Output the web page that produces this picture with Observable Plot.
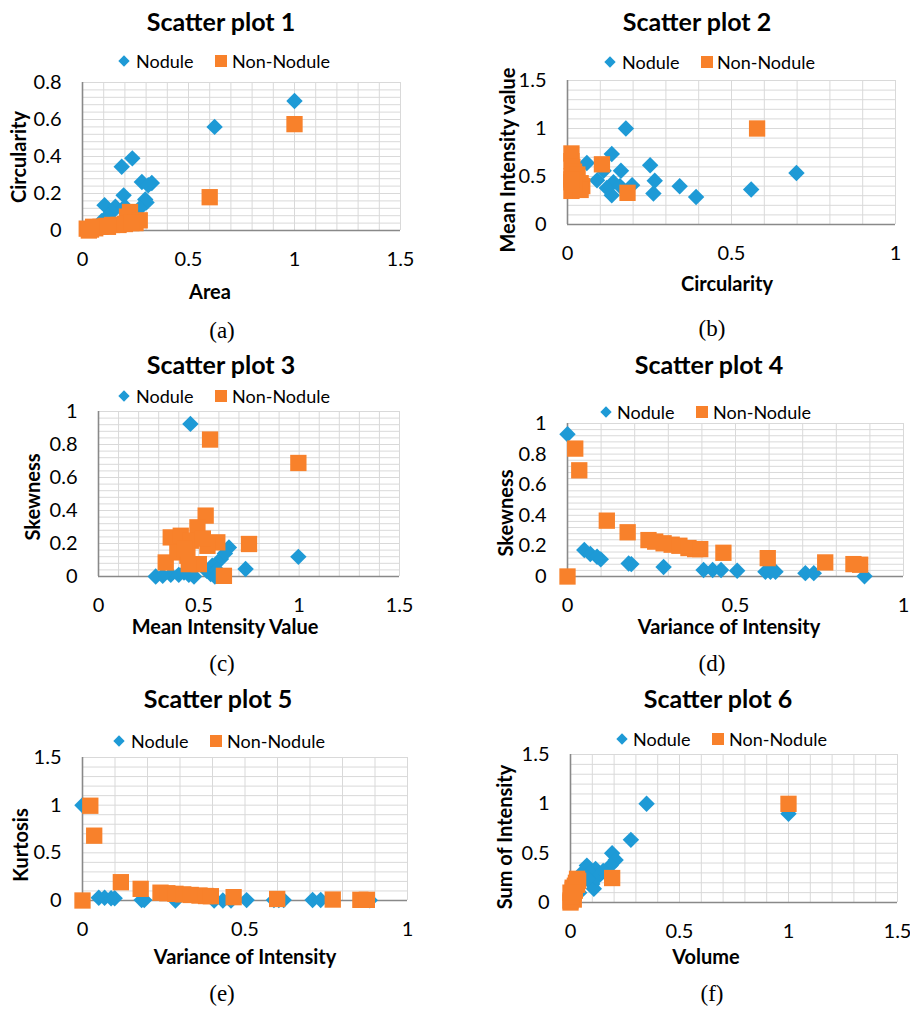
<!DOCTYPE html>
<html><head><meta charset="utf-8">
<script src="https://cdn.jsdelivr.net/npm/d3@7"></script>
<script src="https://cdn.jsdelivr.net/npm/@observablehq/plot@0.6"></script>
<style>
html,body{margin:0;padding:0;background:#fff;overflow:hidden;}
#page{position:relative;width:910px;height:1010px;font-family:Lato,sans-serif;overflow:hidden;}
.t{position:absolute;transform:translate(-50%,-50%);white-space:nowrap;color:#000;line-height:1;}
.title{font-weight:bold;font-size:25px;}
.axt{font-weight:bold;font-size:20px;line-height:0.9;}
.cap{font-family:"Liberation Serif",serif;font-size:23px;}
.leg{position:absolute;transform:translateY(-50%);white-space:nowrap;font-size:18px;line-height:1;color:#000;}
.sw{position:absolute;}
.pw{position:absolute;}
.pw svg{max-width:none;overflow:visible;}
</style></head>
<body><div id="page"></div>
<script>
// ---------- data ----------
const seriesNames = ["Nodule", "Non-Nodule"];
const titles = ["Scatter plot 1","Scatter plot 2","Scatter plot 3","Scatter plot 4","Scatter plot 5","Scatter plot 6"];
const xLabels = ["Area","Circularity","Mean Intensity Value","Variance of Intensity","Variance of Intensity","Volume"];
const yLabels = ["Circularity","Mean Intensity value","Skewness","Skewness","Kurtosis","Sum of Intensity"];
const captions = ["(a)","(b)","(c)","(d)","(e)","(f)"];

const ticks0to15 = [0, 0.5, 1, 1.5];
const ticks0to1half = [0, 0.5, 1];
const ticks0to08 = [0, 0.2, 0.4, 0.6, 0.8];
const ticks0to1 = [0, 0.2, 0.4, 0.6, 0.8, 1];

// Scatter plot 1: Area vs Circularity
const p1Nodule = [[1.0,0.70],[0.623,0.56],[0.235,0.39],[0.185,0.345],[0.28,0.262],[0.327,0.257],[0.31,0.245],[0.194,0.19],[0.296,0.168],[0.302,0.152],[0.104,0.137],[0.155,0.128],[0.27,0.12],[0.14,0.10],[0.2,0.13],[0.12,0.08],[0.09,0.05],[0.25,0.08]];
const p1NonNodule = [[1.0,0.575],[0.60,0.18],[0.224,0.10],[0.21,0.075],[0.27,0.055],[0.25,0.04],[0.02,0.01],[0.04,0.005],[0.06,0.012],[0.085,0.02],[0.11,0.025],[0.14,0.03],[0.17,0.03],[0.2,0.035],[0.23,0.04],[0.05,0.02],[0.03,0.0],[0.12,0.02]];
// Scatter plot 2: Circularity vs Mean Intensity value
const p2Nodule = [[0.178,1.0],[0.698,0.537],[0.56,0.364],[0.392,0.287],[0.342,0.398],[0.252,0.617],[0.266,0.455],[0.262,0.322],[0.197,0.41],[0.163,0.56],[0.135,0.735],[0.14,0.44],[0.135,0.305],[0.09,0.46],[0.059,0.64],[0.11,0.56],[0.12,0.38],[0.16,0.40]];
const p2NonNodule = [[0.578,1.0],[0.105,0.627],[0.183,0.33],[0.012,0.74],[0.012,0.66],[0.015,0.60],[0.02,0.55],[0.012,0.50],[0.03,0.48],[0.012,0.44],[0.04,0.43],[0.02,0.38],[0.012,0.35],[0.045,0.40],[0.03,0.52],[0.04,0.36],[0.02,0.42],[0.012,0.47]];
// Scatter plot 3: Mean Intensity Value vs Skewness
const p3Nodule = [[0.458,0.925],[0.996,0.119],[0.733,0.045],[0.65,0.176],[0.61,0.106],[0.567,0.065],[0.559,0.015],[0.285,0.0],[0.36,0.01],[0.476,0.0],[0.426,0.024],[0.54,0.034],[0.32,0.005],[0.40,0.01],[0.59,0.04],[0.63,0.14],[0.45,0.01],[0.58,0.0]];
const p3NonNodule = [[0.556,0.83],[0.996,0.688],[0.534,0.369],[0.493,0.298],[0.75,0.197],[0.625,0.004],[0.36,0.237],[0.41,0.247],[0.46,0.217],[0.592,0.207],[0.543,0.186],[0.335,0.085],[0.393,0.146],[0.443,0.126],[0.50,0.075],[0.45,0.075],[0.43,0.17],[0.52,0.23]];
// Scatter plot 4: Variance of Intensity vs Skewness
const p4Nodule = [[0.0,0.93],[0.05,0.173],[0.068,0.147],[0.088,0.129],[0.099,0.112],[0.182,0.085],[0.19,0.081],[0.286,0.062],[0.405,0.043],[0.432,0.043],[0.457,0.043],[0.505,0.037],[0.589,0.031],[0.604,0.031],[0.619,0.031],[0.708,0.022],[0.733,0.022],[0.884,0.002]];
const p4NonNodule = [[0,0],[0.023,0.836],[0.035,0.694],[0.117,0.365],[0.179,0.289],[0.241,0.238],[0.261,0.228],[0.286,0.217],[0.31,0.208],[0.333,0.201],[0.36,0.186],[0.38,0.179],[0.395,0.179],[0.464,0.155],[0.596,0.12],[0.767,0.092],[0.851,0.081],[0.871,0.077]];
// Scatter plot 5: Variance of Intensity vs Kurtosis
const p5Nodule = [[0.0,1.0],[0.05,0.028],[0.068,0.028],[0.088,0.024],[0.099,0.024],[0.182,0.004],[0.19,0.004],[0.286,0.0],[0.405,0.0],[0.432,0.0],[0.457,0.0],[0.505,0.004],[0.589,0.004],[0.604,0.004],[0.619,0.004],[0.708,0.006],[0.733,0.006],[0.884,0.002]];
const p5NonNodule = [[0,0],[0.024,0.994],[0.036,0.68],[0.118,0.192],[0.179,0.122],[0.24,0.082],[0.261,0.076],[0.286,0.07],[0.31,0.064],[0.333,0.058],[0.36,0.052],[0.38,0.047],[0.395,0.045],[0.465,0.035],[0.599,0.016],[0.77,0.01],[0.855,0.007],[0.875,0.007]];
// Scatter plot 6: Volume vs Sum of Intensity
const p6Nodule = [[0.349,1.0],[1.0,0.9],[0.277,0.635],[0.191,0.5],[0.207,0.43],[0.184,0.374],[0.075,0.374],[0.115,0.34],[0.1,0.187],[0.107,0.14],[0.138,0.29],[0.061,0.32],[0.09,0.30],[0.12,0.25],[0.05,0.2],[0.15,0.32],[0.04,0.1],[0.08,0.24]];
const p6NonNodule = [[1.0,1.0],[0.191,0.248],[0.03,0.24],[0.025,0.2],[0.01,0.15],[0.0,0.1],[0.01,0.05],[0.0,0.0],[0.02,0.12],[0.035,0.22],[0.015,0.03],[0.005,0.08],[0.02,0.17],[0.0,0.02],[0.01,0.13],[0.03,0.18],[0.005,0.06],[0.015,0.1]];

const blue = "#1E9AD6", orange = "#F8812B";

// ---------- layout ----------
const panels = [
  {frame:[82,400,82,230], xDomain:[0,1.5], yDomain:[0,0.8], xTicks:ticks0to15, yTicks:ticks0to08, xStep:0.1, yStep:0.04, nod:p1Nodule, non:p1NonNodule,
   title:[221,21], leg:[61,124,136,221,232], xt:[210,291], yt:[18,157], cap:[222,330]},
  {frame:[567,895,80,224], xDomain:[0,1], yDomain:[0,1.5], xTicks:ticks0to1half, yTicks:ticks0to15, xStep:0.1, yStep:0.1, nod:p2Nodule, non:p2NonNodule,
   title:[697,21], leg:[62,610,622,707,717], xt:[727,283], yt:[507,160], cap:[712,328]},
  {frame:[98,399,411,576], xDomain:[0,1.5], yDomain:[0,1], xTicks:ticks0to15, yTicks:ticks0to1, xStep:0.1, yStep:0.04, nod:p3Nodule, non:p3NonNodule,
   title:[221,364], leg:[396,124,136,221,232], xt:[225,626], yt:[32,497], cap:[222,663]},
  {frame:[567,903,423,576], xDomain:[0,1], yDomain:[0,1], xTicks:ticks0to1half, yTicks:ticks0to1, xStep:0.1, yStep:0.04, nod:p4Nodule, non:p4NonNodule,
   title:[709,364], leg:[412,606,617,702,713], xt:[729,626], yt:[505,513], cap:[712,663]},
  {frame:[82,407,757,900], xDomain:[0,1], yDomain:[0,1.5], xTicks:ticks0to1half, yTicks:ticks0to15, xStep:0.1, yStep:0.1, nod:p5Nodule, non:p5NonNodule,
   title:[218,698], leg:[741,119,131,216,227], xt:[245,956], yt:[20,845], cap:[222,993]},
  {frame:[570,897,754,902], xDomain:[0,1.5], yDomain:[0,1.5], xTicks:ticks0to15, yTicks:ticks0to15, xStep:0.1, yStep:0.1, nod:p6Nodule, non:p6NonNodule,
   title:[718,698], leg:[739,622,633,718,729], xt:[706,956], yt:[504,837], cap:[712,993]}
];

const page = document.getElementById("page");
function addText(cls, txt, x, y, rot) {
  const d = document.createElement("div");
  d.className = "t " + cls;
  d.textContent = txt;
  d.style.left = x + "px"; d.style.top = y + "px";
  if (rot) d.style.transform = "translate(-50%,-50%) rotate(-90deg)";
  page.appendChild(d);
}
function addSwatch(kind, cx, cy) {
  const d = document.createElement("div");
  d.className = "sw";
  if (kind === "diamond") {
    const s = 8;
    Object.assign(d.style, {left:(cx - s/2)+"px", top:(cy - s/2)+"px", width:s+"px", height:s+"px", background:blue, transform:"rotate(45deg)"});
  } else {
    const s = 12;
    Object.assign(d.style, {left:(cx - s/2)+"px", top:(cy - s/2)+"px", width:s+"px", height:s+"px", background:orange});
  }
  page.appendChild(d);
}
function addLegText(txt, x, y) {
  const d = document.createElement("div");
  d.className = "leg"; d.textContent = txt;
  d.style.left = x + "px"; d.style.top = y + "px";
  page.appendChild(d);
}

panels.forEach((cfg, i) => {
  const [L, R, T, B] = cfg.frame;
  const ML = 60, MR = 16, MT = 16, MB = 46;
  const W = R - L + ML + MR, H = B - T + MT + MB;
  const nx = Math.round(cfg.xDomain[1] / cfg.xStep), ny = Math.round(cfg.yDomain[1] / cfg.yStep);
  const xg = d3.range(1, nx + 1).map(k => k * cfg.xStep);
  const yg = d3.range(1, ny + 1).map(k => k * cfg.yStep);
  const svg = Plot.plot({
    width: W, height: H, marginLeft: ML, marginRight: MR, marginTop: MT, marginBottom: MB,
    style: {fontFamily: "Lato, sans-serif", fontSize: "20px", color: "#000", background: "transparent", overflow: "visible"},
    x: {domain: cfg.xDomain},
    y: {domain: cfg.yDomain},
    marks: [
      Plot.ruleX(xg, {stroke: "#d9d9d9", strokeWidth: 1}),
      Plot.ruleY(yg, {stroke: "#d9d9d9", strokeWidth: 1}),
      Plot.ruleX([0], {stroke: "#898989", strokeWidth: 1.6}),
      Plot.ruleY([0], {stroke: "#898989", strokeWidth: 1.6}),
      Plot.axisX({ticks: cfg.xTicks, tickSize: 0, tickPadding: 21, tickFormat: d => String(d), label: null, fontSize: 20}),
      Plot.axisY({ticks: cfg.yTicks, tickSize: 0, tickPadding: 21, tickFormat: d => String(d), label: null, fontSize: 20}),
      Plot.dot(cfg.nod, {x: d => d[0], y: d => d[1], symbol: "diamond2", r: 7.4, fill: blue}),
      Plot.dot(cfg.non, {x: d => d[0], y: d => d[1], symbol: "square", r: 9.2, fill: orange})
    ]
  });
  const wrap = document.createElement("div");
  wrap.className = "pw";
  wrap.style.left = (L - ML) + "px"; wrap.style.top = (T - MT) + "px";
  wrap.style.width = W + "px"; wrap.style.height = H + "px";
  wrap.appendChild(svg);
  page.appendChild(wrap);

  addText("title", titles[i], cfg.title[0], cfg.title[1]);
  const [ly, dx, tx, sx, tx2] = cfg.leg;
  addSwatch("diamond", dx, ly);
  addLegText(seriesNames[0], tx, ly);
  addSwatch("square", sx, ly);
  addLegText(seriesNames[1], tx2, ly);
  addText("axt", xLabels[i], cfg.xt[0], cfg.xt[1]);
  addText("axt", yLabels[i], cfg.yt[0], cfg.yt[1], true);
  addText("cap", captions[i], cfg.cap[0], cfg.cap[1]);
});
</script>
</body></html>
